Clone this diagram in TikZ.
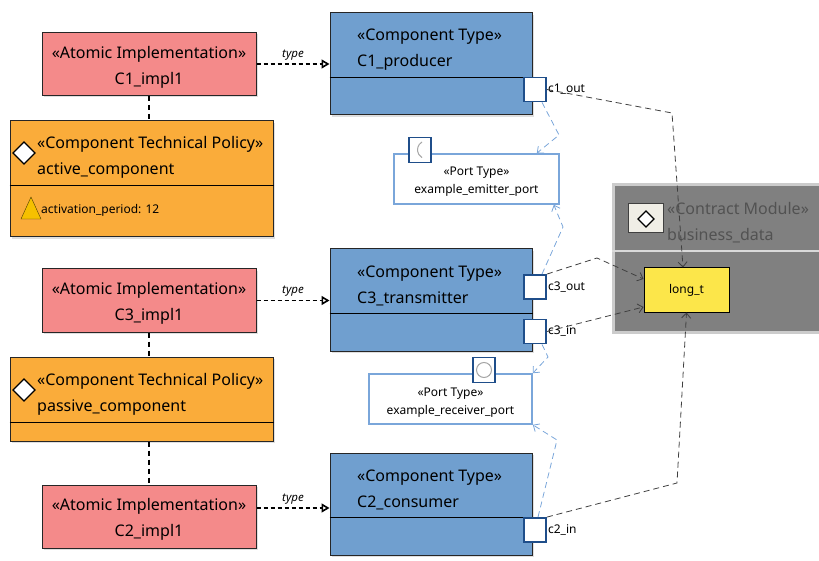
\documentclass[tikz,border=0pt]{standalone}
\usepackage{fontspec}
\setmainfont{Noto Sans}
\usetikzlibrary{arrows.meta,shadows}
\definecolor{implred}{RGB}{244,138,138}
\definecolor{polorange}{RGB}{250,172,58}
\definecolor{compblue}{RGB}{112,159,207}
\definecolor{portblue}{RGB}{31,78,138}
\definecolor{ptblue}{RGB}{122,166,218}
\definecolor{cmgray}{RGB}{128,128,128}
\definecolor{cmicon}{RGB}{240,238,230}
\definecolor{ltyellow}{RGB}{252,230,74}
\definecolor{warnyellow}{RGB}{246,192,0}
\begin{document}
\begin{tikzpicture}[x=1pt,y=-1pt,
  box/.style={draw=black!85,line width=1pt,inner sep=0pt,
    drop shadow={shadow xshift=2pt,shadow yshift=-2pt,opacity=.25}},
  impl/.style={box,fill=implred,minimum width=214pt,minimum height=63pt},
  impltext/.style={align=center,inner sep=0pt,font=\fontsize{16}{26}\selectfont},
  policy/.style={box,fill=polorange,minimum width=263pt},
  comptype/.style={box,fill=compblue,minimum width=202pt,minimum height=102pt},
  title/.style={anchor=west,align=left,inner sep=0pt,font=\fontsize{16}{26}\selectfont},
  port/.style={draw=portblue,line width=1.8pt,fill=white,minimum width=22pt,
    minimum height=24pt,inner sep=0pt},
  small/.style={anchor=west,inner sep=1pt,font=\fontsize{12}{14}\selectfont},
  porttype/.style={draw=ptblue,line width=1.6pt,fill=white,minimum height=50pt,inner sep=0pt},
  pttext/.style={align=center,inner sep=0pt,font=\fontsize{12}{18}\selectfont},
  icon/.style={draw=portblue,line width=1.2pt,fill=white,minimum width=22pt,
    minimum height=25pt,inner sep=0pt},
  symbol/.style={draw=black!35,line width=1pt},
  diam/.style={draw=black,line width=1.4pt,fill=white},
  typeof/.style={line width=1.6pt,dash pattern=on 4pt off 3pt,
    -{Triangle[open,length=8pt,width=9pt]}},
  typelbl/.style={above,inner sep=3pt,font=\fontsize{11.5}{12}\selectfont\itshape},
  link/.style={line width=1.8pt,dash pattern=on 5pt off 4pt},
  flow/.style={draw=black!75,line width=.8pt,dash pattern=on 6pt off 4pt,
    -{Straight Barb[length=5pt,width=9pt]}},
  usage/.style={draw=ptblue,line width=.8pt,dash pattern=on 6pt off 4pt,
    -{Straight Barb[length=5pt,width=9pt]}}]
\useasboundingbox (0,0) rectangle (819,561);
\clip (0,0) rectangle (819,561);

\node (a1) [impl] at (149,64) {};
\node (a1t) [impltext] at (149,67) {«Atomic Implementation»\\C1\_impl1};
\node (a3) [impl] at (149,300.5) {};
\node (a3t) [impltext] at (149,303.5) {«Atomic Implementation»\\C3\_impl1};
\node (a2) [impl] at (149,516.5) {};
\node (a2t) [impltext] at (149,519.5) {«Atomic Implementation»\\C2\_impl1};

\node (p1) [policy,minimum height=116pt] at (141.5,179) {};
\draw (p1.west |- 0,185) -- (p1.east |- 0,185);
\draw[diam] (24,142) -- ++(11,11) -- ++(-11,11) -- ++(-11,-11) -- cycle;
\node (p1t) [title] at (37,157) {«Component Technical Policy»\\active\_component};
\draw[draw=black!70!warnyellow,fill=warnyellow] (21,219) -- (41,219) -- (31,197) -- cycle;
\node (p1a) [small] at (40,210) {activation\_period: 12};

\node (p3) [policy,minimum height=84pt] at (141.5,399) {};
\draw (p3.west |- 0,422) -- (p3.east |- 0,422);
\draw[diam] (24,379) -- ++(11,11) -- ++(-11,11) -- ++(-11,-11) -- cycle;
\node (p3t) [title] at (37,394) {«Component Technical Policy»\\passive\_component};

\node (c1) [comptype] at (431,64) {};
\draw (c1.west |- 0,77) -- (c1.east |- 0,77);
\node (c1t) [title] at (357,49.5) {«Component Type»\\C1\_producer};
\node (c3) [comptype] at (431,300) {};
\draw (c3.west |- 0,313) -- (c3.east |- 0,313);
\node (c3t) [title] at (357,286) {«Component Type»\\C3\_transmitter};
\node (c2) [comptype] at (431,504) {};
\draw (c2.west |- 0,517) -- (c2.east |- 0,517);
\node (c2t) [title] at (357,490) {«Component Type»\\C2\_consumer};

\node (c1o) [port] at (535,89.5) {};
\node (c1ol) [small] at (c1o.east) {c1\_out};
\node (c3o) [port] at (535,287) {};
\node (c3ol) [small] at (c3o.east) {c3\_out};
\node (c3i) [port] at (535,331.5) {};
\node (c3il) [small] at (c3i.east) {c3\_in};
\node (c2i) [port] at (535,530) {};
\node (c2il) [small] at (c2i.east) {c2\_in};

\node (pte) [porttype,minimum width=165pt] at (476.5,179) {};
\node (ptet) [pttext] at (476.5,182) {«Port Type»\\example\_emitter\_port};
\node (ptei) [icon] at (420,150) {};
\draw[symbol] (422,142) arc (120:240:9pt);
\node (ptr) [porttype,minimum width=163pt] at (450.5,399) {};
\node (ptrt) [pttext] at (450.5,403) {«Port Type»\\example\_receiver\_port};
\node (ptri) [icon] at (484,370) {};
\draw[symbol] (ptri.center) circle (7.5pt);

\node (cm) [draw=black!20,line width=3pt,fill=cmgray,minimum width=217pt,
  minimum height=147pt] at (721.5,258.5) {};
\draw[black!15,line width=1.2pt] (cm.west |- 0,251) -- (cm.east |- 0,251);
\node (cmi) [draw=black!75,line width=1pt,fill=cmicon,minimum width=35pt,
  minimum height=29pt] at (645.5,218.5) {};
\draw[diam,line width=1.2pt] (646,211) -- ++(8,8) -- ++(-8,8) -- ++(-8,-8) -- cycle;
\node (cmt) [title,text=black!68] at (667,222.5) {«Contract Module»\\business\_data};
\node (lt) [draw=black,line width=1pt,fill=ltyellow,minimum width=85pt,minimum height=44pt,
  font=\fontsize{12}{14}\selectfont] at (686.5,290) {long\_t};

\draw[typeof] (a1.east) -- node[typelbl] {type} (a1.east -| c1.west);
\draw[typeof] (a3.east) -- node[typelbl] {type} (a3.east -| c3.west);
\draw[typeof] ([yshift=8.5pt]a2.east) -- node[typelbl] {type} ([yshift=8.5pt]a2.east -| c2.west);

\draw[link] (a1.south) -- (a1.south |- p1.north);
\draw[link] (a3.south) -- (a3.south |- p3.north);
\draw[link] (p3.south -| a2.north) -- (a2.north);

\draw[flow] (c1o.east) -- (672,113) -- ([xshift=-3.5pt]lt.north);
\draw[flow] (c3o.north east) -- (597,258) -- ([yshift=11pt]lt.west);
\draw[flow] (c3i.east) -- ([yshift=-17pt]lt.west);
\draw[flow] (c2i.north east) -- (677,483) -- (lt.south);

\draw[usage] ([xshift=7pt]c1o.south) -- (559,135) -- ([xshift=-23pt]pte.north east);
\draw[usage] ([xshift=7pt]c3o.north) -- (563,227) -- ([xshift=-6pt]pte.south east);
\draw[usage] ([xshift=7pt]c3i.south) -- (548,357) -- (ptr.north east);
\draw[usage] ([xshift=3pt]c2i.north) -- (557,440) -- (ptr.south east);
\end{tikzpicture}
\end{document}
